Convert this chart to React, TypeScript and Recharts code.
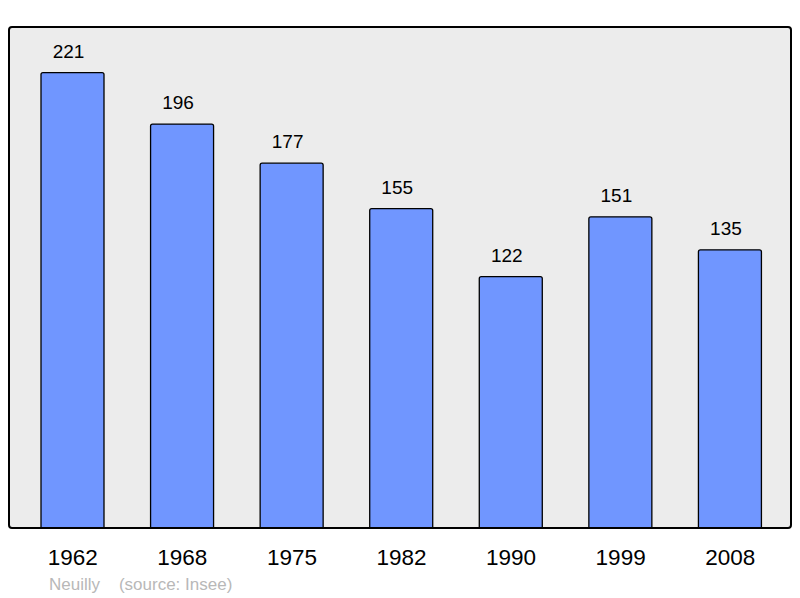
import React from 'react';
import { BarChart, Bar, XAxis, YAxis, CartesianGrid, LabelList } from 'recharts';

const years = ['1962', '1968', '1975', '1982', '1990', '1999', '2008'];
const population = [221, 196, 177, 155, 122, 151, 135];

const data = years.map((year, i) => ({ year, population: population[i] }));

const font = '"Liberation Sans", Arial, sans-serif';

export default function App() {
  return (
    <div style={{ position: 'absolute', left: 0, top: 0, width: 800, height: 598, background: '#fff' }}>
      <BarChart
        width={800}
        height={598}
        data={data}
        margin={{ top: 27, right: 9, bottom: 40, left: 9 }}
      >
        <CartesianGrid fill="#ececec" horizontal={false} vertical={false} />
        <XAxis
          dataKey="year"
          height={30}
          axisLine={false}
          tickLine={false}
          tickSize={0}
          tickMargin={21}
          padding={{ left: 9, right: 6 }}
          tick={{ fontSize: 22.5, fill: '#000', fontFamily: font }}
        />
        <YAxis hide domain={[0, 243.1]} />
        <Bar
          dataKey="population"
          barSize={63}
          fill="#7096ff"
          stroke="#000"
          strokeWidth={1.3}
          radius={[2, 2, 0, 0]}
          isAnimationActive={false}
        >
          <LabelList
            dataKey="population"
            position="top"
            offset={15}
            dx={-4}
            style={{ fontSize: 19, fill: '#000', fontFamily: font }}
          />
        </Bar>
      </BarChart>
      <div
        style={{
          position: 'absolute',
          left: 8,
          top: 26,
          width: 784,
          height: 503,
          boxSizing: 'border-box',
          border: '2px solid #000',
          borderRadius: 4,
          pointerEvents: 'none',
        }}
      />
      <div
        style={{
          position: 'absolute',
          left: 49,
          top: 576,
          fontSize: 17,
          lineHeight: '17px',
          color: '#b8b8b8',
          fontFamily: font,
          whiteSpace: 'pre',
        }}
      >
        Neuilly    (source: Insee)
      </div>
    </div>
  );
}
